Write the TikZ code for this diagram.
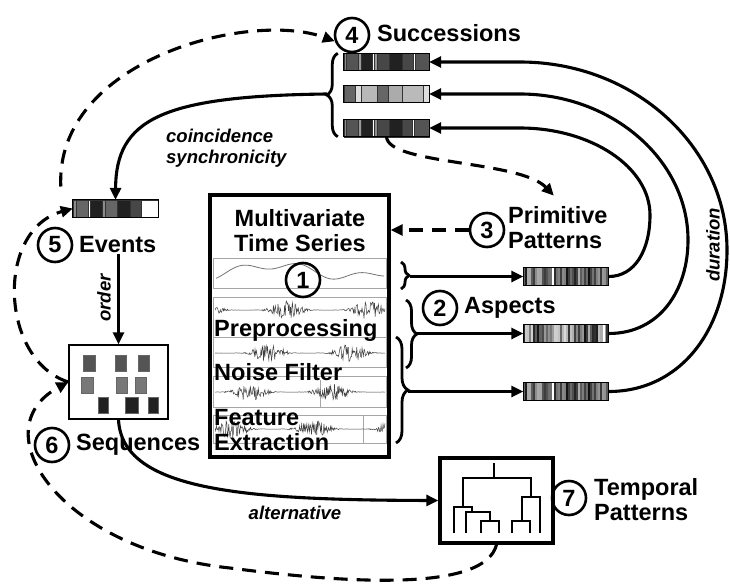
\documentclass[tikz,border=0pt]{standalone}
\usepackage{fontspec}
\setmainfont{Liberation Sans}
\usetikzlibrary{arrows.meta, decorations.pathreplacing, calc}

\tikzset{
  >={Triangle[length=12pt,width=11pt]},
  conn/.style={->, line width=3.1pt},
  dashconn/.style={->, line width=3.1pt, dash pattern=on 14pt off 9pt},
  stepnum/.style={draw, circle, line width=2.6pt, minimum size=34pt, inner sep=0pt, font=\fontsize{23.5}{25}\selectfont\bfseries},
  lab/.style={inner sep=1pt, align=left, font=\fontsize{23.5}{25}\selectfont\bfseries},
  itl/.style={inner sep=1pt, align=left, font=\fontsize{18.5}{20.5}\selectfont\bfseries\itshape},
  barnode/.style={minimum width=85, minimum height=17, inner sep=0pt},
  bracket/.style={line width=2.8pt, decorate, decoration={brace, amplitude=#1}}
}

% bar made of cells a/b/colour
\newcommand{\cellbar}[2]{%
  \foreach \a/\b/\c in {#2}
    \filldraw[fill=\c, draw=black!80, line width=0.4pt] ($(#1.north west)+(\a,0)$) rectangle ($(#1.south west)+(\b,0)$);
  \draw[line width=1.2pt] (#1.north west) rectangle (#1.south east);
}
% bar made of thin random stripes
\newcommand{\stripebar}[4]{%
  \pgfmathsetseed{#2}
  \foreach \i in {0,...,41} {
    \pgfmathtruncatemacro{\g}{#3+(95-#3)*rnd}
    \fill[black!\g] ($(#1.north west)+(\i*85/42,0)$) rectangle ($(#1.south west)+(\i*85/42+85/42,0)$);
  }
  \fill[white] ($(#1.north west)+(#4,0)$) rectangle ($(#1.south west)+(#4+2,0)$);
  \draw[line width=1.2pt] (#1.north west) rectangle (#1.south east);
}

\begin{document}
\begin{tikzpicture}[x=1pt, y=-1pt]
  \useasboundingbox (0,0) rectangle (730,583);

  % (1) multivariate time series
  \node[draw, line width=3.4pt, minimum width=179, minimum height=262, inner sep=0pt] (mts) at (299.5,326) {};
  \foreach \ya/\yb in {258/288, 297/337, 337/367, 376/407, 415/443}
    \draw[black!35, line width=0.7pt] (213,\ya) rectangle (386,\yb);
  \draw[black!35, line width=0.7pt] (320,380) -- (320,407) (363,415) -- (363,443);
  \draw[black!55, line width=0.8pt] plot[domain=216:384, samples=100, smooth] (\x, {271 - 4*cos(6*\x) + 6*sin(2.3*\x)});
  \pgfmathsetseed{11}
  \foreach \yc/\ph in {310/0, 353/40, 392/80, 429/120}
    \draw[black!75, line width=0.5pt] plot[domain=215:385, samples=260] (\x, {\yc + 9*rand*abs(sin(2.2*\x+\ph))^5});
  \node[lab, align=center] (mtitle) at (300,231) {Multivariate\\Time Series};
  \node[stepnum] (c1) at (303,280) {1};
  \node[lab, anchor=west] (prep) at (213,330) {Preprocessing};
  \node[lab, anchor=west] (noise) at (213,372) {Noise Filter};
  \node[lab, anchor=west] (feat) at (213,430.5) {Feature\\Extraction};

  % (2) aspects and (3) primitive patterns
  \node[stepnum] (c2) at (440,308) {2};
  \node[lab, anchor=west] (asp) at (463,308) {Aspects};
  \node[stepnum] (c3) at (487,230) {3};
  \node[lab, anchor=west] (pp) at (507,228) {Primitive\\Patterns};
  \node[barnode] (p1) at (566,276.5) {};
  \node[barnode] (p2) at (566,333.5) {};
  \node[barnode] (p3) at (566,391.5) {};
  \stripebar{p1}{5}{30}{29}
  \stripebar{p2}{7}{10}{80}
  \stripebar{p3}{5}{30}{29}

  \draw[bracket=8pt] (401,262) -- (401,289);
  \draw[bracket=11pt] (406,300) -- (406,368);
  \draw[bracket=12pt] (396,337) -- (396,443);
  \coordinate (b1) at (410,276.5);
  \coordinate (b2) at (417,333.5);
  \coordinate (b3) at (408,391.5);
  \draw[conn] (b1) -- (p1.west);
  \draw[conn] (b2) -- (p2.west);
  \draw[conn] (b3) -- (p3.west);

  % (4) successions
  \node[stepnum] (c4) at (352,35) {4};
  \node[lab, anchor=west] (succ) at (376,33) {Successions};
  \node[barnode] (s1) at (386.5,62) {};
  \node[barnode] (s2) at (386.5,94) {};
  \node[barnode] (s3) at (386.5,128) {};
  \cellbar{s1}{0/2/black!45, 2/14/black!67, 14/17/black!40, 17/28/black!87, 28/30/white, 30/33/black!40, 33/45/black!72, 45/58/black!87, 58/69/black!72, 69/71/white, 71/85/black!67}
  \cellbar{s2}{0/11/black!60, 11/17/black!13, 17/33/black!28, 33/44/black!60, 44/58/black!33, 58/79/black!27, 79/85/black!13}
  \cellbar{s3}{0/2/black!45, 2/14/black!67, 14/17/black!40, 17/28/black!87, 28/30/white, 30/33/black!45, 33/45/black!72, 45/58/black!87, 58/68/black!72, 68/70/white, 70/85/black!67}
  \draw[bracket=11pt] ($(s3.south west)+(-6,0)$) -- ($(s1.north west)+(-6,0)$);
  \coordinate (sb) at ($(s2.west)+(-17,0)$);

  \draw[conn] (p3.east) .. controls (680,391.5) and (727,330) .. (727,250) .. controls (727,147) and (635,62) .. (520,62) -- (s1.east);
  \draw[conn] (p2.east) .. controls (660,333.5) and (688,290) .. (688,240) .. controls (688,160) and (612,94) .. (520,94) -- (s2.east);
  \draw[conn] (p1.east) .. controls (635,276.5) and (650,250) .. (650,215) .. controls (650,167) and (591,128) .. (520,128) -- (s3.east);
  \node[itl, rotate=90] (dur) at (713,245) {duration};

  % (5) events
  \node[barnode] (ev) at (115.5,208.5) {};
  \cellbar{ev}{0/3/black!45, 3/15/black!60, 15/17/white, 17/29/black!87, 29/32/black!45, 32/44/black!60, 44/57/black!87, 57/68/black!72, 68/85/white}
  \node[stepnum] (c5) at (55,245) {5};
  \node[lab, anchor=west] (evl) at (78,245) {Events};
  \draw[conn] (sb) .. controls (160,96) and (116,120) .. (ev.north);
  \node[itl, anchor=west] (coin) at (165,148) {coincidence\\synchronicity};

  % (6) sequences
  \node[draw, line width=1.4pt, minimum width=99, minimum height=74, inner sep=0pt] (seq) at (118.5,382) {};
  \foreach \x/\y/\w/\c in {83/355/12/black!67, 115/355/11/black!67, 138/355/11/black!67,
                           81/377/12/black!53, 116/377/11/black!53, 135/377/11/black!53,
                           98/397/10/black!87, 125/397/13/black!87, 148/397/10/black!87}
    \filldraw[fill=\c, draw=black!60, line width=0.5pt] (\x,\y) rectangle ++(\w,16);
  \node[stepnum] (c6) at (52,445) {6};
  \node[lab, anchor=west] (seql) at (75,445) {Sequences};
  \draw[conn] (evl.south -| seq.north) -- (seq.north);
  \node[itl, rotate=90] (ord) at (104,298) {order};

  % (7) temporal patterns
  \node[draw, line width=3.4pt, minimum width=113, minimum height=85, inner sep=0pt] (tp) at (496.5,500.5) {};
  \draw[line width=1.5pt]
    (494,463) -- (494,478)
    (463,507) -- (463,478) -- (531,478) -- (531,497)
    (454,533) -- (454,507) -- (472,507) -- (472,512)
    (466,533) -- (466,512) -- (490,512) -- (490,521)
    (481,533) -- (481,521) -- (499,521) -- (499,533)
    (522,521) -- (522,497) -- (540,497) -- (540,533)
    (512,533) -- (512,521) -- (530,521) -- (530,533);
  \node[stepnum] (c7) at (569,498) {7};
  \node[lab, anchor=west] (tpl) at (593,500) {Temporal\\Patterns};
  \draw[conn] (seq.south) .. controls (122,490) and (240,500) .. (tp.west);
  \node[itl] (alt) at (295,513) {alternative};

  % feedback
  \coordinate (evtop) at ($(ev.west)+(-12,-22)$);
  \draw[dashconn] (c3.west) -- (mts.east |- c3.west);
  \draw[dashconn] (s3.south) .. controls (388,165) and (520,160) .. ($(pp.north)+(-4,-10)$);
  \draw[dashconn] (evtop) .. controls (55,60) and (250,10) .. (c4.200);
  \draw[dashconn] (seq.west) .. controls (0,360) and (-5,230) .. (ev.west);
  \draw[dashconn] (tp.south) .. controls (485,590) and (360,585) .. (230,568) .. controls (60,550) and (-20,430) .. (seq.west);
\end{tikzpicture}
\end{document}
